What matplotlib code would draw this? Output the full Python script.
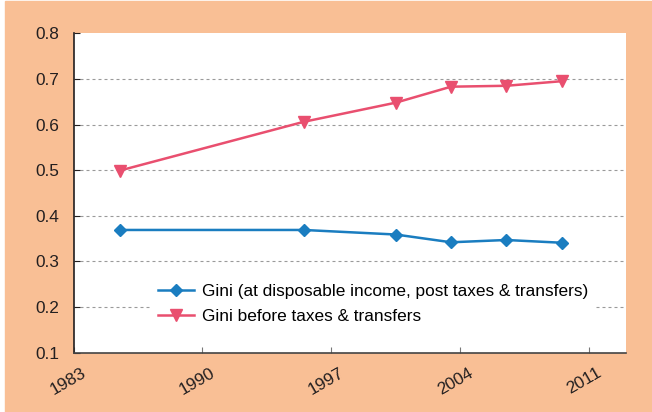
import matplotlib.pyplot as plt
from matplotlib.transforms import ScaledTranslation

plt.rcParams['font.family'] = ['Liberation Sans', 'DejaVu Sans']

# Gini coefficients
years = [1985.5, 1995.5, 2000.5, 2003.5, 2006.5, 2009.5]
gini_disposable = [0.369, 0.369, 0.359, 0.342, 0.347, 0.341]
gini_before = [0.499, 0.606, 0.648, 0.683, 0.685, 0.695]

xticks = [1983, 1990, 1997, 2004, 2011]
yticks = [0.1, 0.2, 0.3, 0.4, 0.5, 0.6, 0.7, 0.8]

peach = '#f9bf95'
blue = '#1a7dc0'
red = '#e94f6f'
textc = '#231f20'
fs = 12.4

fig = plt.figure(figsize=(6.52, 4.12), dpi=100)
fig.patch.set_facecolor('white')
# peach panel, with a thin white strip on the left and top
bg = plt.Rectangle((5/652, 0), 1 - 5/652, 1 - 1/412,
                   transform=fig.transFigure, color=peach, zorder=-10)
fig.add_artist(bg)

ax = fig.add_axes([73.5/652, 1 - 352.7/412, (626 - 73.5)/652, (352.7 - 33.3)/412])
ax.set_facecolor('white')

ax.plot(years, gini_disposable, color=blue, lw=1.8, marker='D', ms=6,
        label='Gini (at disposable income, post taxes & transfers)', zorder=3)
ax.plot(years, gini_before, color=red, lw=1.8, marker='v', ms=8.5,
        label='Gini before taxes & transfers', zorder=3)

ax.set_xlim(1983, 2013)
ax.set_ylim(0.1, 0.8)
ax.set_xticks(xticks)
ax.set_yticks(yticks)
ax.set_xticklabels([str(y) for y in xticks], rotation=30, ha='center')
ax.set_yticklabels(['%.1f' % v for v in yticks])
ax.tick_params(axis='both', direction='in', labelsize=fs, colors=textc, length=4)
ax.tick_params(axis='x', colors='#777777', labelcolor=textc, pad=9)
ax.tick_params(axis='y', pad=10)
shift = ScaledTranslation(-5/100, 0, fig.dpi_scale_trans)
for lab in ax.get_xticklabels():
    lab.set_transform(lab.get_transform() + shift)

for v in yticks[1:-1]:
    ax.axhline(v, color='#9a9a9a', lw=0.8, ls=(0, (2.7, 2.7)), zorder=1)

ax.spines['top'].set_visible(False)
ax.spines['right'].set_visible(False)
ax.spines['left'].set_color(textc)
ax.spines['bottom'].set_color('#444444')
ax.spines['left'].set_linewidth(1.2)
ax.spines['bottom'].set_linewidth(1.2)

leg = ax.legend(loc='lower left', bbox_to_anchor=(0.124, 0.04), fontsize=fs,
                frameon=True, facecolor='white', edgecolor='none', framealpha=1,
                fancybox=False, handlelength=2.1, handletextpad=0.5, labelspacing=0.62)
leg.set_zorder(4)

fig.savefig('out.png', dpi=100, facecolor=fig.get_facecolor())
